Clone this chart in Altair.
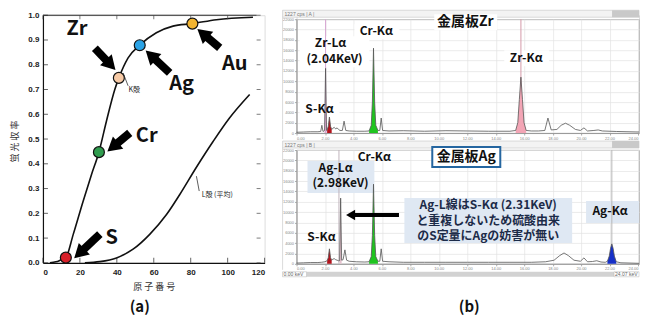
import math
import altair as alt
import pandas as pd

# ================= (a) fluorescence yield vs atomic number =================
k_z = [3.8, 7.0, 9.2, 12.4, 16.4, 21.8, 26.3, 30.3, 34.4, 38.9, 41.1, 46.1, 52.4, 61.4, 70.4, 80.9, 93.9, 113.7]
k_v = [0.0, 0.004, 0.010, 0.021, 0.115, 0.25, 0.357, 0.447, 0.573, 0.70, 0.747, 0.828, 0.879, 0.929, 0.956, 0.966, 0.982, 0.992]
l_z = [22.7, 30.8, 39.8, 48.8, 57.8, 66.9, 74.0, 83.0, 92.1, 101.0, 111.9]
l_v = [0.0, 0.005, 0.02, 0.055, 0.115, 0.195, 0.275, 0.385, 0.49, 0.585, 0.68]

dot_el = ["S", "Cr", "Zr", "Ag", "Au"]
dot_z = [12.4, 30.3, 41.1, 52.4, 80.9]
dot_v = [0.021, 0.447, 0.747, 0.879, 0.966]
dot_color = ["#d8202a", "#2f9c4e", "#f7caa6", "#2ba3e6", "#f2b431"]

lab_text = ["Zr", "Ag", "Au", "Cr", "S"]
lab_z = [18.4, 75.1, 103.8, 56.2, 37.3]
lab_v = [0.944, 0.722, 0.802, 0.512, 0.10]

arr_tail_z = [28.1, 68.6, 95.7, 47.0, 30.8]
arr_tail_v = [0.867, 0.767, 0.868, 0.525, 0.116]
arr_tip_z = [38.9, 56.0, 84.0, 35.3, 17.3]
arr_tip_v = [0.782, 0.855, 0.942, 0.452, 0.021]

shell_text = ["K殻", "L殻 (平均)"]
shell_z = [46.3, 86.0]
shell_v = [0.697, 0.273]
lead_z = [43.4, 83.1]
lead_v = [0.767, 0.35]
lead_z2 = [46.1, 84.6]
lead_v2 = [0.715, 0.29]

a_xticks = [0, 20, 40, 60, 80, 100, 120]
a_yticks = [0.0, 0.1, 0.2, 0.3, 0.4, 0.5, 0.6, 0.7, 0.8, 0.9, 1.0]

# ================= (b) XRF spectra =================
A_e = [0.0, 0.5, 1.0, 1.5, 1.70, 1.78, 1.86, 1.97, 2.04, 2.11, 2.15, 2.23, 2.31, 2.39, 2.47,
       2.55, 2.65, 2.75, 2.85, 2.95, 3.05, 3.22, 3.34, 3.46, 3.7, 4.2, 4.8, 5.10, 5.25, 5.33,
       5.41, 5.49, 5.57, 5.72, 5.85, 5.95, 6.05, 6.5, 7.5, 9.0, 10.5, 12.0, 13.5, 15.0, 15.40,
       15.55, 15.66, 15.77, 15.88, 15.99, 16.14, 16.5, 17.0, 17.45, 17.67, 17.90, 18.3, 18.6, 18.9,
       19.2, 19.6, 19.95, 20.2, 20.45, 20.9, 21.2, 21.5, 22.5, 24.07]
A_c = [150, 200, 250, 250, 300, 1500, 300, 500, 12500, 500, 600, 1300, 3100, 1300, 700,
       900, 1100, 800, 1000, 700, 500, 500, 2300, 500, 400, 350, 350, 400, 1500, 6000,
       16400, 6000, 1500, 500, 500, 2900, 500, 400, 450, 350, 450, 400, 350, 350, 500,
       2000, 6500, 10800, 6500, 2000, 500, 400, 400, 500, 2900, 600, 700, 1500, 1900,
       1500, 700, 500, 1000, 400, 500, 600, 400, 300, 200]
B_e = [0.0, 0.5, 1.0, 1.5, 1.75, 2.0, 2.15, 2.23, 2.31, 2.39, 2.47, 2.55, 2.65, 2.75, 2.85,
       2.95, 3.03, 3.10, 3.17, 3.27, 3.40, 3.52, 3.7, 4.2, 4.8, 5.10, 5.25, 5.33, 5.41, 5.49,
       5.57, 5.72, 5.85, 5.95, 6.05, 6.5, 7.5, 9.0, 10.5, 12.0, 13.5, 15.0, 16.5, 17.5, 18.1,
       18.5, 18.8, 19.1, 19.5, 19.95, 20.2, 20.45, 20.8, 21.1, 21.4, 21.7, 21.85, 21.98, 22.07,
       22.16, 22.25, 22.34, 22.47, 22.8, 24.07]
B_c = [150, 200, 250, 250, 300, 400, 600, 1200, 2900, 1200, 700, 900, 1000, 800, 700,
       600, 600, 12700, 700, 800, 2700, 700, 500, 400, 350, 400, 1400, 5500, 15400, 5500,
       1400, 500, 500, 2900, 500, 400, 300, 300, 300, 300, 300, 300, 300, 400, 700,
       1600, 2100, 1600, 700, 500, 1150, 400, 450, 600, 350, 300, 500, 1500, 3000,
       3850, 3000, 1500, 400, 200, 100]

A_fill_lo = [1.97, 2.15, 5.10, 15.40]
A_fill_hi = [2.11, 2.47, 5.72, 16.14]
A_fill_col = ["#d9a3cc", "#b3131c", "#1fc41f", "#f3a5b5"]
B_fill_lo = [2.15, 3.03, 5.10, 21.85]
B_fill_hi = [2.47, 3.17, 5.72, 22.47]
B_fill_col = ["#b3131c", "#e7c3cf", "#1fc41f", "#1630c8"]

A_mark_e = [2.04, 15.77]
A_mark_col = ["#d6a6d2", "#d49aa8"]
B_mark_e = [2.98, 22.16]
B_mark_col = ["#c0b4bc", "#b8b8b8"]

A_lab_text = ["Zr-Lα", "(2.04KeV)", "Cr-Kα", "S-Kα", "Zr-Kα"]
A_lab_e = [2.39, 2.67, 5.61, 1.61, 16.14]
A_lab_c = [17380, 14280, 19690, 4630, 14480]
A_box_e = [0.21, 4.07, 0.21, 14.6]
A_box_e2 = [5.12, 7.23, 3.02, 17.75]
A_box_c = [18720, 21040, 6180, 16020]
A_box_c2 = [12740, 18140, 3090, 12930]

B_lab_text = ["Ag-Lα", "(2.98KeV)", "Cr-Kα", "S-Kα", "Ag-Kα"]
B_lab_e = [2.74, 3.09, 5.47, 1.75, 22.04]
B_lab_c = [18540, 15530, 20660, 5210, 10230]
B_box_e = [0.77, 7.58, 20.35]
B_box_e2 = [5.47, 19.37, 24.07]
B_box_c = [19880, 12740, 12160]
B_box_c2 = [13700, 4050, 7910]
B_note = ["Ag-L線はS-Kα (2.31KeV)", "と重複しないため硫酸由来", "のS定量にAgの妨害が無い"]
B_note_e = [13.47, 13.47, 13.47]
B_note_c = [11390, 8300, 5300]
B_arrow_e = [7.2]
B_arrow_e2 = [3.95]
B_arrow_c = [9460]
B_head_e = [3.8]

titles = ["金属板Zr", "金属板Ag"]
title_e = [11.86, 11.93]
title_c = [21420, 20650]
title_box_e = [9.68, 9.54]
title_box_e2 = [14.1, 14.32]
title_box_c = [22970, 22580]
title_box_c2 = [19880, 18720]

JP = "Noto Sans CJK JP"

# ---------------- left chart ----------------
WL, HL = 222, 248
PX_Z, PX_V = WL / 120, HL

AX_X = alt.Axis(values=a_xticks, title="原 子 番 号", titleFont=JP, titleFontSize=9,
                titleFontWeight="normal", titleColor="#333", titleY=24, titleBaseline="middle",
                labelFont="Liberation Sans", labelFontSize=8, labelFontWeight="bold",
                labelColor="#222", ticks=False, domainColor="#111", domainWidth=1.2,
                labelPadding=6, grid=False, labelOverlap=False, tickCount=7)
AX_Y = alt.Axis(values=a_yticks, format=".1f", title="蛍 光 収 率", titleFont=JP,
                titleFontSize=9, titleFontWeight="normal", titleColor="#333",
                titleAngle=270, titleBaseline="bottom", titleX=-23.5, titleY=126,
                labelFont="Liberation Sans", labelFontSize=8, labelFontWeight="bold",
                labelColor="#222", ticks=False, domainColor="#111", domainWidth=1.2,
                labelPadding=4, grid=False, labelOverlap=False, tickCount=11)
SZ = alt.Scale(domain=[0, 120], nice=False)
SV = alt.Scale(domain=[0, 1], nice=False)
xa = alt.X("z:Q", scale=SZ, axis=AX_X)
ya = alt.Y("v:Q", scale=SV, axis=AX_Y)

df_k = pd.DataFrame({"z": k_z, "v": k_v})
df_l = pd.DataFrame({"z": l_z, "v": l_v})
curve_k = alt.Chart(df_k).mark_line(color="#111", strokeWidth=1.6, interpolate="monotone").encode(x=xa, y=ya)
curve_l = alt.Chart(df_l).mark_line(color="#111", strokeWidth=1.6, interpolate="monotone").encode(x=xa, y=ya)

top_rule = alt.Chart(pd.DataFrame({"z": [0], "z2": [115.7], "v": [1.0]})).mark_rule(
    color="#222", strokeWidth=1).encode(x=xa, x2="z2:Q", y=ya)

df_yt = pd.DataFrame({"v": a_yticks})
df_xt = pd.DataFrame({"z": a_xticks})
ytick_l = alt.Chart(df_yt).mark_tick(orient="horizontal", size=5, thickness=1, color="#222").encode(
    y=ya, x=alt.value(2.5))
ytick_r = alt.Chart(df_yt).mark_tick(orient="horizontal", size=4, thickness=1, color="#444").encode(
    y=ya, x=alt.value(WL - 6))
xtick_b = alt.Chart(df_xt).mark_tick(orient="vertical", size=5, thickness=1, color="#222").encode(
    x=xa, y=alt.value(HL - 2.5))
xtick_t = alt.Chart(df_xt[df_xt.z < 120]).mark_tick(orient="vertical", size=4, thickness=1, color="#444").encode(
    x=xa, y=alt.value(2))

df_lead = pd.DataFrame({"z": lead_z, "v": lead_v, "z2": lead_z2, "v2": lead_v2})
leads = alt.Chart(df_lead).mark_rule(color="#333", strokeWidth=0.8).encode(
    x=xa, y=ya, x2="z2:Q", y2="v2:Q")
df_shell = pd.DataFrame({"z": shell_z, "v": shell_v, "t": shell_text})
shell_lbl = alt.Chart(df_shell).mark_text(font=JP, fontSize=7, color="#222", align="left").encode(
    x=xa, y=ya, text="t:N")

shaft_rows, head_rows = [], []
for tz, tv, hz, hv in zip(arr_tail_z, arr_tail_v, arr_tip_z, arr_tip_v):
    dx = (hz - tz) * PX_Z
    dy = -(hv - tv) * PX_V
    L = math.hypot(dx, dy)
    ux, uy = dx / L, dy / L
    shaft_rows.append({"z": tz, "v": tv, "z2": hz - ux * 9 / PX_Z, "v2": hv + uy * 9 / PX_V})
    head_rows.append({"z": hz - ux * 6 / PX_Z, "v": hv + uy * 6 / PX_V,
                      "ang": math.degrees(math.atan2(dx, -dy)) % 360})
shafts = alt.Chart(pd.DataFrame(shaft_rows)).mark_rule(color="black", strokeWidth=8, strokeCap="butt").encode(
    x=xa, y=ya, x2="z2:Q", y2="v2:Q")
heads = alt.Chart(pd.DataFrame(head_rows)).mark_point(shape="triangle-up", filled=True, color="black",
                                                      size=260, opacity=1).encode(
    x=xa, y=ya, angle=alt.Angle("ang:Q", scale=None))

df_dot = pd.DataFrame({"z": dot_z, "v": dot_v, "c": dot_color, "el": dot_el})
dots = alt.Chart(df_dot).mark_circle(size=120, opacity=1, stroke="#111", strokeWidth=1.2).encode(
    x=xa, y=ya, fill=alt.Fill("c:N", scale=None))

df_lab = pd.DataFrame({"z": lab_z, "v": lab_v, "t": lab_text})
labs = alt.Chart(df_lab).mark_text(font=JP, fontSize=20, fontWeight="bold", color="#111").encode(
    x=xa, y=ya, text="t:N")

cap_a = alt.Chart(pd.DataFrame({"t": ["(a)"]})).mark_text(font=JP, fontSize=15, fontWeight="bold",
                                                         color="#111").encode(
    x=alt.value(97), y=alt.value(292), text="t:N")

left = alt.layer(curve_k, curve_l, top_rule, ytick_l, ytick_r, xtick_b, xtick_t, leads, shell_lbl,
                 shafts, heads, dots, labs, cap_a).properties(width=WL, height=HL)

# ---------------- right charts ----------------
WR, HR = 343, 114
E_SCALE = alt.Scale(domain=[0, 24.07], nice=False, zero=False)
C_SCALE = alt.Scale(domain=[0, 22000], nice=False)
X_AXIS = alt.Axis(values=list(range(0, 25, 2)), format=".2f", labelFontSize=4, labelColor="#888",
                  tickSize=2, tickColor="#aaa", domainColor="#999", gridColor="#e2e2e2",
                  gridWidth=0.7, labelPadding=1, title=None, grid=True)
Y_AXIS = alt.Axis(values=list(range(0, 22001, 2000)), format="d", labelFontSize=4, labelColor="#888",
                  tickSize=2, tickColor="#aaa", domainColor="#999", gridColor="#e2e2e2",
                  gridWidth=0.7, labelPadding=1, title=None, grid=True)
xe = alt.X("e:Q", scale=E_SCALE, axis=X_AXIS)
yc = alt.Y("c:Q", scale=C_SCALE, axis=Y_AXIS)


def spectrum(E, C, flo, fhi, fcol, mk_e, mk_col, lab_t, lab_e, lab_c, bx_e, bx_e2, bx_c, bx_c2, box_fill,
             idx, letter, extra):
    df = pd.DataFrame({"e": E, "c": C})
    layers = []
    one = pd.DataFrame({"k": [0]})
    # label background boxes
    layers.append(alt.Chart(pd.DataFrame({"e": bx_e, "e2": bx_e2, "c": bx_c, "c2": bx_c2})).mark_rect(
        fill=box_fill).encode(x=xe, x2="e2:Q", y=yc, y2="c2:Q"))
    # frame and header bar
    layers.append(alt.Chart(one).mark_rect(fill="#f3f3f3", stroke="#c4c4c4", strokeWidth=0.6).encode(
        x=alt.value(-14), x2=alt.value(WR), y=alt.value(-9), y2=alt.value(-2)))
    layers.append(alt.Chart(one).mark_rect(fill="#c9c9c9").encode(
        x=alt.value(316), x2=alt.value(WR), y=alt.value(-9), y2=alt.value(-2)))
    layers.append(alt.Chart(pd.DataFrame({"t": ["1227 cps  |  " + letter + "  |"]})).mark_text(
        fontSize=5, color="#777", align="left", baseline="middle").encode(
        x=alt.value(-12), y=alt.value(-5.5), text="t:N"))
    layers.append(alt.Chart(one).mark_rule(color="#c4c4c4", strokeWidth=0.6).encode(
        x=alt.value(-14), y=alt.value(-2), y2=alt.value(HR + 6)))
    # line markers
    layers.append(alt.Chart(pd.DataFrame({"e": mk_e, "col": mk_col})).mark_rule(strokeWidth=1).encode(
        x=xe, color=alt.Color("col:N", scale=None), y=alt.value(0), y2=alt.value(HR)))
    # filled peaks
    for lo, hi, col in zip(flo, fhi, fcol):
        sub = df[(df.e >= lo) & (df.e <= hi)]
        layers.append(alt.Chart(sub).mark_area(color=col, opacity=1).encode(x=xe, y=yc))
    # spectrum outline
    layers.append(alt.Chart(df).mark_line(color="#555", strokeWidth=0.8).encode(x=xe, y=yc))
    layers.extend(extra)
    # labels
    layers.append(alt.Chart(pd.DataFrame({"e": lab_e, "c": lab_c, "t": lab_t})).mark_text(
        font=JP, fontSize=12, fontWeight="bold", color="#111").encode(x=xe, y=yc, text="t:N"))
    # title box
    layers.append(alt.Chart(pd.DataFrame({"e": [title_box_e[idx]], "e2": [title_box_e2[idx]],
                                          "c": [title_box_c[idx]], "c2": [title_box_c2[idx]]})).mark_rect(
        fill="white", stroke="#2566a0" if idx == 1 else "white", strokeWidth=2 if idx == 1 else 0.1).encode(
        x=xe, x2="e2:Q", y=yc, y2="c2:Q"))
    layers.append(alt.Chart(pd.DataFrame({"e": [title_e[idx]], "c": [title_c[idx]], "t": [titles[idx]]})).mark_text(
        font=JP, fontSize=14, fontWeight="bold", color="#111").encode(x=xe, y=yc, text="t:N"))
    return alt.layer(*layers).properties(width=WR, height=HR,
                                         view=alt.ViewBackground(stroke="#9a9a9a", strokeWidth=0.8))


top = spectrum(A_e, A_c, A_fill_lo, A_fill_hi, A_fill_col, A_mark_e, A_mark_col,
               A_lab_text, A_lab_e, A_lab_c, A_box_e, A_box_e2, A_box_c, A_box_c2, "white", 0, "A", [])

note_lines = alt.Chart(pd.DataFrame({"e": B_note_e, "c": B_note_c, "t": B_note})).mark_text(
    font=JP, fontSize=12, fontWeight="bold", color="#1c2b48").encode(x=xe, y=yc, text="t:N")
arrow_shaft = alt.Chart(pd.DataFrame({"e": B_arrow_e, "e2": B_arrow_e2, "c": B_arrow_c})).mark_rule(
    color="black", strokeWidth=4).encode(x=xe, x2="e2:Q", y=yc)
arrow_head = alt.Chart(pd.DataFrame({"e": B_head_e, "c": B_arrow_c})).mark_point(
    shape="triangle-left", filled=True, color="black", size=110, opacity=1).encode(x=xe, y=yc)
one_b = pd.DataFrame({"k": [0]})
bottom_bar = [
    alt.Chart(one_b).mark_rect(fill="#d2d2d2").encode(
        x=alt.value(-14), x2=alt.value(WR), y=alt.value(HR + 8), y2=alt.value(HR + 13)),
    alt.Chart(one_b).mark_rect(fill="white", stroke="#bbb", strokeWidth=0.5).encode(
        x=alt.value(-14), x2=alt.value(10), y=alt.value(HR + 8), y2=alt.value(HR + 13)),
    alt.Chart(one_b).mark_rect(fill="white", stroke="#bbb", strokeWidth=0.5).encode(
        x=alt.value(318), x2=alt.value(WR), y=alt.value(HR + 8), y2=alt.value(HR + 13)),
    alt.Chart(pd.DataFrame({"t": ["0.00 keV"]})).mark_text(fontSize=5, color="#666", align="left",
                                                          baseline="middle").encode(
        x=alt.value(-13), y=alt.value(HR + 10.5), text="t:N"),
    alt.Chart(pd.DataFrame({"t": ["24.07 keV"]})).mark_text(fontSize=5, color="#666", align="left",
                                                           baseline="middle").encode(
        x=alt.value(319), y=alt.value(HR + 10.5), text="t:N"),
    alt.Chart(pd.DataFrame({"t": ["(b)"]})).mark_text(font=JP, fontSize=15, fontWeight="bold",
                                                     color="#111").encode(
        x=alt.value(173), y=alt.value(157), text="t:N"),
]
bottom = spectrum(B_e, B_c, B_fill_lo, B_fill_hi, B_fill_col, B_mark_e, B_mark_col,
                  B_lab_text, B_lab_e, B_lab_c, B_box_e, B_box_e2, B_box_c, B_box_c2, "#dfe8f3", 1, "B",
                  [note_lines, arrow_shaft, arrow_head] + bottom_bar)

spacer = alt.Chart(pd.DataFrame({"k": [0]})).mark_point(opacity=0).encode(
    x=alt.value(0), y=alt.value(0)).properties(width=WR, height=4)

right = alt.vconcat(spacer, alt.vconcat(top, bottom, spacing=17, bounds="flush"), spacing=0, bounds="flush")

chart = alt.hconcat(left, right, spacing=32, bounds="flush").properties(
    padding={"left": 2, "top": 1, "right": 0, "bottom": 0}
).configure_view(stroke="transparent").configure(background="white")

chart.save("out.html", embed_options={"renderer": "svg", "actions": False})
